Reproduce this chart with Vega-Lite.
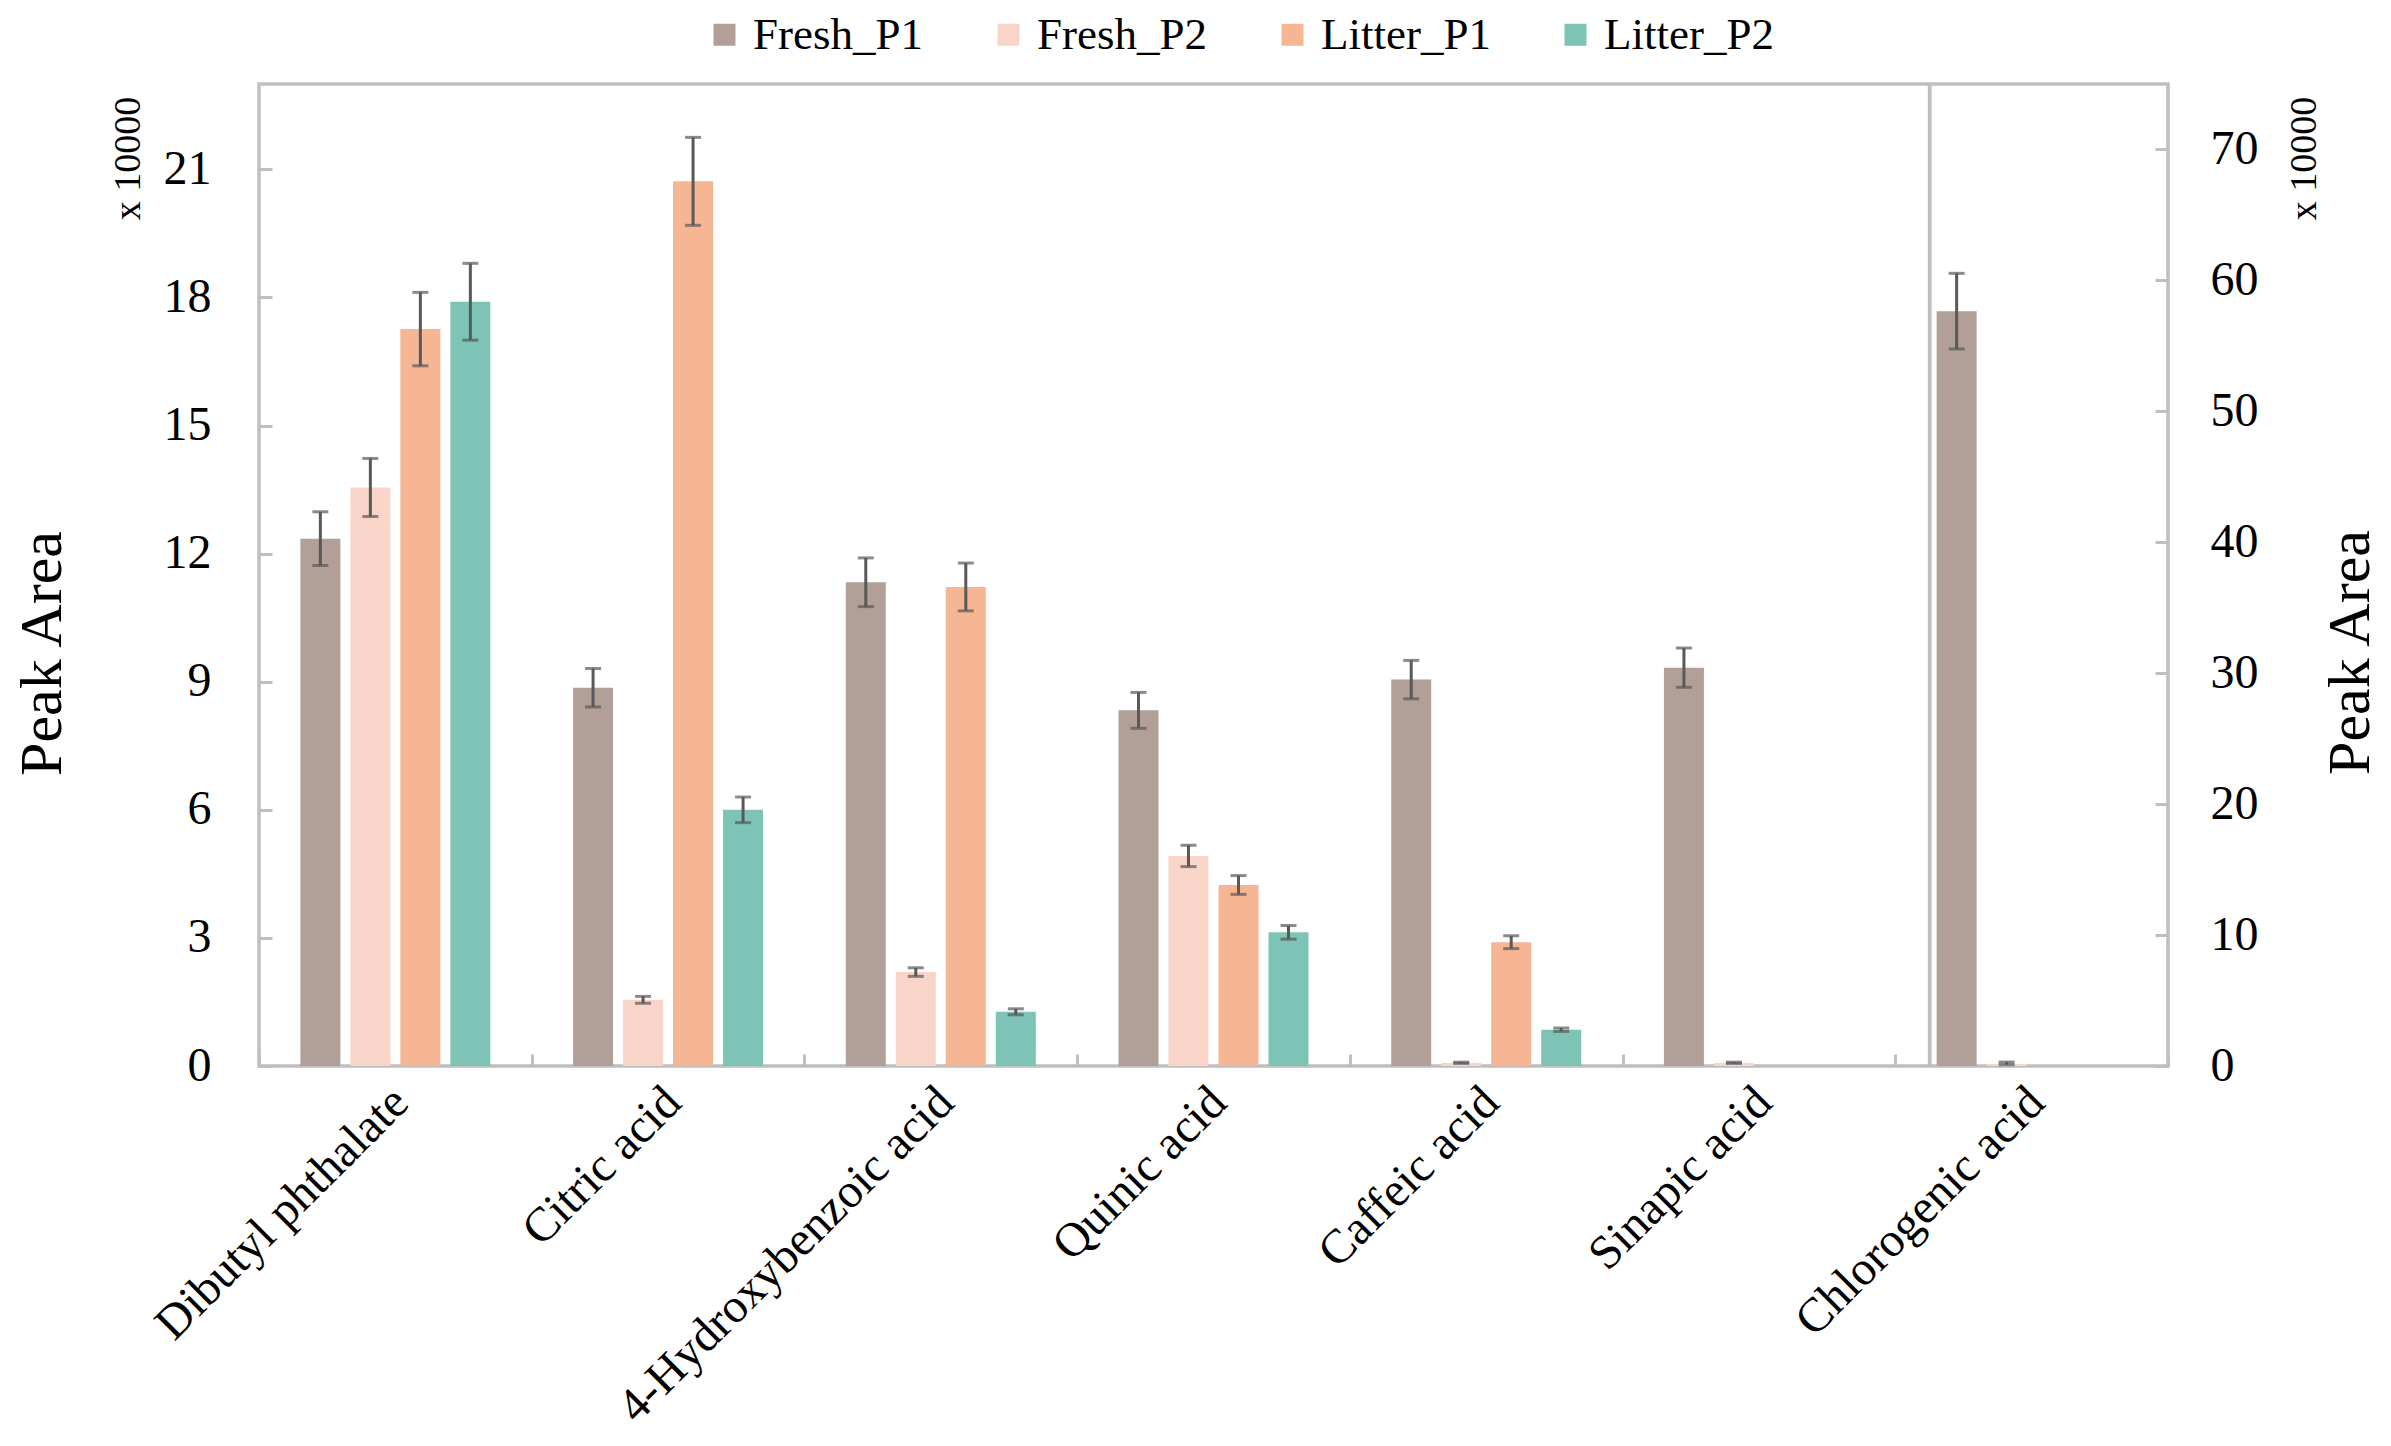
{
  "$schema": "https://vega.github.io/schema/vega-lite/v6.json",
  "autosize": {"type": "none"},
  "width": 1909,
  "height": 982,
  "padding": {"left": 259, "top": 84, "right": 223, "bottom": 380},
  "background": "white",
  "config": {
    "font": "Liberation Serif",
    "view": {"stroke": "#bfbfbf", "strokeWidth": 3.5},
    "axis": {
      "labelFont": "Liberation Serif",
      "titleFont": "Liberation Serif",
      "labelColor": "#000000",
      "titleColor": "#000000",
      "titleFontWeight": "normal",
      "domain": false,
      "grid": false,
      "tickColor": "#bfbfbf",
      "tickWidth": 3
    }
  },
  "datasets": {
    "left": [
      {"compound": "Dibutyl phthalate", "series": "Fresh_P1", "value": 12.35, "lo": 11.72, "hi": 12.98},
      {"compound": "Dibutyl phthalate", "series": "Fresh_P2", "value": 13.55, "lo": 12.87, "hi": 14.23},
      {"compound": "Dibutyl phthalate", "series": "Litter_P1", "value": 17.26, "lo": 16.4, "hi": 18.12},
      {"compound": "Dibutyl phthalate", "series": "Litter_P2", "value": 17.9, "lo": 17.0, "hi": 18.8},
      {"compound": "Citric acid", "series": "Fresh_P1", "value": 8.86, "lo": 8.41, "hi": 9.31},
      {"compound": "Citric acid", "series": "Fresh_P2", "value": 1.55, "lo": 1.47, "hi": 1.63},
      {"compound": "Citric acid", "series": "Litter_P1", "value": 20.72, "lo": 19.69, "hi": 21.75},
      {"compound": "Citric acid", "series": "Litter_P2", "value": 6.0, "lo": 5.7, "hi": 6.3},
      {"compound": "4-Hydroxybenzoic acid", "series": "Fresh_P1", "value": 11.33, "lo": 10.76, "hi": 11.9},
      {"compound": "4-Hydroxybenzoic acid", "series": "Fresh_P2", "value": 2.2, "lo": 2.1, "hi": 2.3},
      {"compound": "4-Hydroxybenzoic acid", "series": "Litter_P1", "value": 11.22, "lo": 10.66, "hi": 11.78},
      {"compound": "4-Hydroxybenzoic acid", "series": "Litter_P2", "value": 1.27, "lo": 1.2, "hi": 1.34},
      {"compound": "Quinic acid", "series": "Fresh_P1", "value": 8.33, "lo": 7.91, "hi": 8.75},
      {"compound": "Quinic acid", "series": "Fresh_P2", "value": 4.92, "lo": 4.67, "hi": 5.17},
      {"compound": "Quinic acid", "series": "Litter_P1", "value": 4.24, "lo": 4.02, "hi": 4.46},
      {"compound": "Quinic acid", "series": "Litter_P2", "value": 3.13, "lo": 2.97, "hi": 3.29},
      {"compound": "Caffeic acid", "series": "Fresh_P1", "value": 9.05, "lo": 8.6, "hi": 9.5},
      {"compound": "Caffeic acid", "series": "Fresh_P2", "value": 0.07, "lo": 0.06, "hi": 0.09},
      {"compound": "Caffeic acid", "series": "Litter_P1", "value": 2.9, "lo": 2.75, "hi": 3.05},
      {"compound": "Caffeic acid", "series": "Litter_P2", "value": 0.85, "lo": 0.81, "hi": 0.89},
      {"compound": "Sinapic acid", "series": "Fresh_P1", "value": 9.33, "lo": 8.87, "hi": 9.79},
      {"compound": "Sinapic acid", "series": "Fresh_P2", "value": 0.07, "lo": 0.06, "hi": 0.09}
    ],
    "right": [
      {"compound": "Chlorogenic acid", "series": "Fresh_P1", "value": 57.65, "lo": 54.76, "hi": 60.54},
      {"compound": "Chlorogenic acid", "series": "Fresh_P2", "value": 0.15, "lo": 0.1, "hi": 0.3}
    ]
  },
  "layer": [
    {
      "data": {"name": "left"},
      "resolve": {"axis": {"y": "independent"}},
      "encoding": {
        "x": {
          "field": "compound",
          "type": "nominal",
          "sort": ["Dibutyl phthalate", "Citric acid", "4-Hydroxybenzoic acid", "Quinic acid", "Caffeic acid", "Sinapic acid", "Chlorogenic acid"],
          "scale": {"domain": ["Dibutyl phthalate", "Citric acid", "4-Hydroxybenzoic acid", "Quinic acid", "Caffeic acid", "Sinapic acid", "Chlorogenic acid"], "paddingInner": 0, "paddingOuter": 0},
          "axis": {"title": null, "labelAngle": -45, "labelFontSize": 48, "labelPadding": 24, "labelOffset": -12, "tickBand": "extent", "tickSize": -12, "ticks": true, "labelLimit": 0}
        }
      },
      "layer": [
        {
          "mark": {"type": "bar"},
          "encoding": {
            "xOffset": {"field": "series", "type": "nominal", "scale": {"domain": ["Fresh_P1", "Fresh_P2", "Litter_P1", "Litter_P2"], "paddingInner": 0.2, "paddingOuter": 0.827}},
            "y": {
              "field": "value", "type": "quantitative",
              "scale": {"domain": [0, 23], "nice": false},
              "axis": {"orient": "left", "values": [0, 3, 6, 9, 12, 15, 18, 21], "tickSize": -13, "labelFontSize": 48, "labelPadding": 61,
                "title": "Peak Area", "titleFontSize": 60, "titleAngle": -90, "titleX": -217, "titleY": 569, "titleAlign": "center", "titleBaseline": "middle"}
            },
            "color": {
              "field": "series", "type": "nominal",
              "scale": {"domain": ["Fresh_P1", "Fresh_P2", "Litter_P1", "Litter_P2"], "range": ["#b19f98", "#f9d5c9", "#f6b593", "#7dc4b7"]},
              "legend": {"orient": "none", "legendX": 443, "legendY": -72, "direction": "horizontal", "title": null, "symbolType": "square", "symbolSize": 484, "symbolStrokeWidth": 0, "labelFont": "Liberation Serif", "labelFontSize": 45, "labelColor": "#000000", "labelOffset": 6, "labelLimit": 0, "columnPadding": 62, "padding": 0}
            }
          }
        },
        {
          "mark": {"type": "rule", "color": "#595959", "strokeWidth": 3},
          "encoding": {
            "xOffset": {"field": "series", "type": "nominal"},
            "y": {"field": "lo", "type": "quantitative",
              "axis": {"orient": "left", "labels": false, "ticks": false, "domain": false, "title": "x 10000", "titleFontSize": 38, "titleAngle": -90, "titleX": -131, "titleY": 74, "titleAlign": "center", "titleBaseline": "middle"}},
            "y2": {"field": "hi"}
          }
        },
        {
          "mark": {"type": "tick", "orient": "horizontal", "color": "#595959", "size": 16, "thickness": 3},
          "encoding": {
            "xOffset": {"field": "series", "type": "nominal"},
            "y": {"field": "lo", "type": "quantitative", "axis": null}
          }
        },
        {
          "mark": {"type": "tick", "orient": "horizontal", "color": "#595959", "size": 16, "thickness": 3},
          "encoding": {
            "xOffset": {"field": "series", "type": "nominal"},
            "y": {"field": "hi", "type": "quantitative", "axis": null}
          }
        }
      ]
    },
    {
      "data": {"name": "right"},
      "resolve": {"axis": {"y": "independent"}},
      "encoding": {
        "x": {
          "field": "compound",
          "type": "nominal",
          "sort": ["Dibutyl phthalate", "Citric acid", "4-Hydroxybenzoic acid", "Quinic acid", "Caffeic acid", "Sinapic acid", "Chlorogenic acid"],
          "scale": {"domain": ["Dibutyl phthalate", "Citric acid", "4-Hydroxybenzoic acid", "Quinic acid", "Caffeic acid", "Sinapic acid", "Chlorogenic acid"], "paddingInner": 0, "paddingOuter": 0},
          "axis": {"title": null, "labelAngle": -45, "labelFontSize": 48, "labelPadding": 24, "labelOffset": -12, "tickBand": "extent", "tickSize": -12, "ticks": true, "labelLimit": 0}
        }
      },
      "layer": [
        {
          "mark": {"type": "rule", "color": "#bfbfbf", "strokeWidth": 3.5},
          "encoding": {
            "x": {"field": "compound", "type": "nominal", "bandPosition": 0.126}
          }
        },
        {
          "mark": {"type": "bar"},
          "encoding": {
            "xOffset": {"field": "series", "type": "nominal"},
            "y": {
              "field": "value", "type": "quantitative",
              "scale": {"domain": [0, 75], "nice": false},
              "axis": {"orient": "right", "values": [0, 10, 20, 30, 40, 50, 60, 70], "tickSize": -13, "labelFontSize": 48, "labelPadding": 55,
                "title": "Peak Area", "titleFontSize": 60, "titleAngle": -90, "titleX": 182, "titleY": 568, "titleAlign": "center", "titleBaseline": "middle"}
            },
            "color": {
              "field": "series", "type": "nominal",
              "scale": {"domain": ["Fresh_P1", "Fresh_P2", "Litter_P1", "Litter_P2"], "range": ["#b19f98", "#f9d5c9", "#f6b593", "#7dc4b7"]},
              "legend": {"orient": "none", "legendX": 443, "legendY": -72, "direction": "horizontal", "title": null, "symbolType": "square", "symbolSize": 484, "symbolStrokeWidth": 0, "labelFont": "Liberation Serif", "labelFontSize": 45, "labelColor": "#000000", "labelOffset": 6, "labelLimit": 0, "columnPadding": 62, "padding": 0}
            }
          }
        },
        {
          "mark": {"type": "rule", "color": "#595959", "strokeWidth": 3},
          "encoding": {
            "xOffset": {"field": "series", "type": "nominal"},
            "y": {"field": "lo", "type": "quantitative",
              "axis": {"orient": "right", "labels": false, "ticks": false, "domain": false, "title": "x 10000", "titleFontSize": 38, "titleAngle": -90, "titleX": 136, "titleY": 74, "titleAlign": "center", "titleBaseline": "middle"}},
            "y2": {"field": "hi"}
          }
        },
        {
          "mark": {"type": "tick", "orient": "horizontal", "color": "#595959", "size": 16, "thickness": 3},
          "encoding": {
            "xOffset": {"field": "series", "type": "nominal"},
            "y": {"field": "lo", "type": "quantitative", "axis": null}
          }
        },
        {
          "mark": {"type": "tick", "orient": "horizontal", "color": "#595959", "size": 16, "thickness": 3},
          "encoding": {
            "xOffset": {"field": "series", "type": "nominal"},
            "y": {"field": "hi", "type": "quantitative", "axis": null}
          }
        }
      ]
    }
  ],
  "resolve": {"scale": {"y": "independent"}}
}
